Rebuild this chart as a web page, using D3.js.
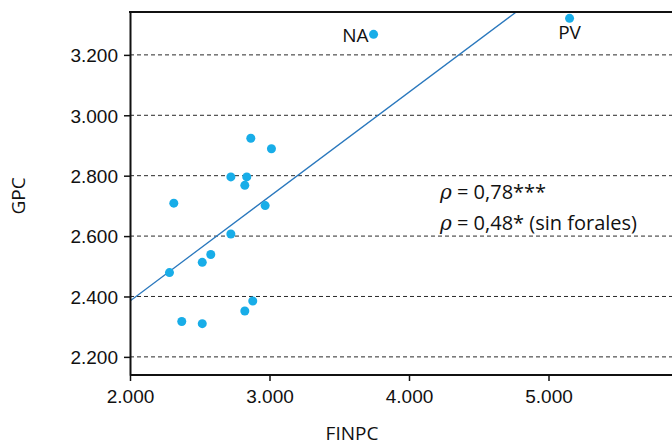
<!doctype html>
<html lang="es">
<head>
<meta charset="utf-8" />
<title>GPC vs FINPC</title>
<script src="https://cdn.jsdelivr.net/npm/d3@7"></script>
<style>
  html, body { margin: 0; padding: 0; background: #fff; }
  svg { display: block; font-family: "Open Sans", "Noto Sans", sans-serif; }
</style>
</head>
<body>
<div id="chart"></div>
<script>
// FINPC (x) and GPC (y) per region
const finpc = [2866, 3014, 2723, 2837, 2823, 2314, 2969, 2723, 2579, 2518, 2283, 2880, 2823, 2371, 2518, 3746, 5151];
const gpc = [2924, 2889, 2796, 2796, 2768, 2709, 2701, 2607, 2539, 2513, 2479, 2385, 2352, 2317, 2310, 3268, 3321];
const pointLabels = ["", "", "", "", "", "", "", "", "", "", "", "", "", "", "", "NA", "PV"];
const xTicks = [2000, 3000, 4000, 5000];
const yTicks = [2200, 2400, 2600, 2800, 3000, 3200];
// fitted line (GPC = a + b * FINPC)
const fitIntercept = 1694;
const fitSlope = 0.3456;
const annotations = ["0,78***", "0,48* (sin forales)"];

const W = 672, H = 445;
const MARGIN = { LEFT: 130, TOP: 12, BOTTOM: 70 };
const plotBottom = H - MARGIN.BOTTOM;
const FONT = 19;

const fmt = d3.format(",.0f");
const esNum = (d) => fmt(d).replace(/,/g, ".");

const x = d3.scaleLinear().domain([2000, 6000]).range([MARGIN.LEFT, MARGIN.LEFT + 558]);
const y = d3.scaleLinear().domain([2140, 3342]).range([plotBottom, MARGIN.TOP]);

const svg = d3.select("#chart").append("svg").attr("width", W).attr("height", H);

svg.append("defs").append("clipPath").attr("id", "plot")
  .append("rect").attr("x", MARGIN.LEFT).attr("y", MARGIN.TOP)
  .attr("width", W - MARGIN.LEFT).attr("height", plotBottom - MARGIN.TOP);

// dashed gridlines
svg.append("g").selectAll("line").data(yTicks).join("line")
  .attr("x1", MARGIN.LEFT).attr("x2", W)
  .attr("y1", (d) => y(d)).attr("y2", (d) => y(d))
  .attr("stroke", "#2a2a2a").attr("stroke-width", 1).attr("stroke-dasharray", "4,3");

// regression line
const xEnd = (y.domain()[1] - fitIntercept) / fitSlope;
svg.append("line")
  .attr("clip-path", "url(#plot)")
  .attr("x1", x(2000)).attr("y1", y(fitIntercept + fitSlope * 2000))
  .attr("x2", x(xEnd)).attr("y2", y(fitIntercept + fitSlope * xEnd))
  .attr("stroke", "#2a78bd").attr("stroke-width", 1.3);

// points
const pts = finpc.map((v, i) => ({ x: v, y: gpc[i], label: pointLabels[i] }));
svg.append("g").selectAll("circle").data(pts).join("circle")
  .attr("cx", (d) => x(d.x)).attr("cy", (d) => y(d.y)).attr("r", 4.5)
  .attr("fill", "#18ade8");

svg.append("g").selectAll("text").data(pts.filter((d) => d.label)).join("text")
  .attr("x", (d) => (d.label === "NA" ? x(d.x) - 5 : x(d.x)))
  .attr("y", (d) => (d.label === "NA" ? y(d.y) + 8 : y(d.y) + 21))
  .attr("text-anchor", (d) => (d.label === "NA" ? "end" : "middle"))
  .attr("font-size", FONT).attr("fill", "#111")
  .text((d) => d.label);

// axes
const yAxis = svg.append("g").attr("transform", `translate(${MARGIN.LEFT},0)`)
  .call(d3.axisLeft(y).tickValues(yTicks).tickFormat(esNum).tickSize(6).tickSizeOuter(0));
const xAxis = svg.append("g").attr("transform", `translate(0,${plotBottom})`)
  .call(d3.axisBottom(x).tickValues(xTicks).tickFormat(esNum).tickSize(6).tickSizeOuter(0));
[xAxis, yAxis].forEach((g) => {
  g.select(".domain").attr("stroke", "#111").attr("stroke-width", 2);
  g.selectAll(".tick line").attr("stroke", "#111").attr("stroke-width", 1.5);
  g.selectAll(".tick text").attr("font-size", FONT).attr("fill", "#111").attr("font-family", null);
});
xAxis.select(".domain").attr("d", `M${MARGIN.LEFT},0H${W}`);
yAxis.selectAll(".tick text").attr("x", -12).attr("dy", "0.36em");
xAxis.selectAll(".tick text").attr("y", 15);

// top frame
svg.append("line").attr("x1", MARGIN.LEFT - 1).attr("x2", W)
  .attr("y1", MARGIN.TOP).attr("y2", MARGIN.TOP)
  .attr("stroke", "#111").attr("stroke-width", 2);

// axis titles
svg.append("text").attr("transform", "translate(25,196) rotate(-90)")
  .attr("text-anchor", "middle").attr("font-size", FONT).attr("fill", "#111").text("GPC");
svg.append("text").attr("x", 352).attr("y", 440)
  .attr("text-anchor", "middle").attr("font-size", FONT).attr("fill", "#111").text("FINPC");

// correlation annotations
const ann = svg.append("g").attr("font-size", 20).attr("fill", "#111");
annotations.forEach((t, i) => {
  const tx = ann.append("text").attr("x", 440).attr("y", 199 + i * 31);
  tx.append("tspan").attr("font-style", "italic").attr("font-family", "DejaVu Serif").text("ρ");
  tx.append("tspan").text(" = " + t);
});
</script>
</body>
</html>
